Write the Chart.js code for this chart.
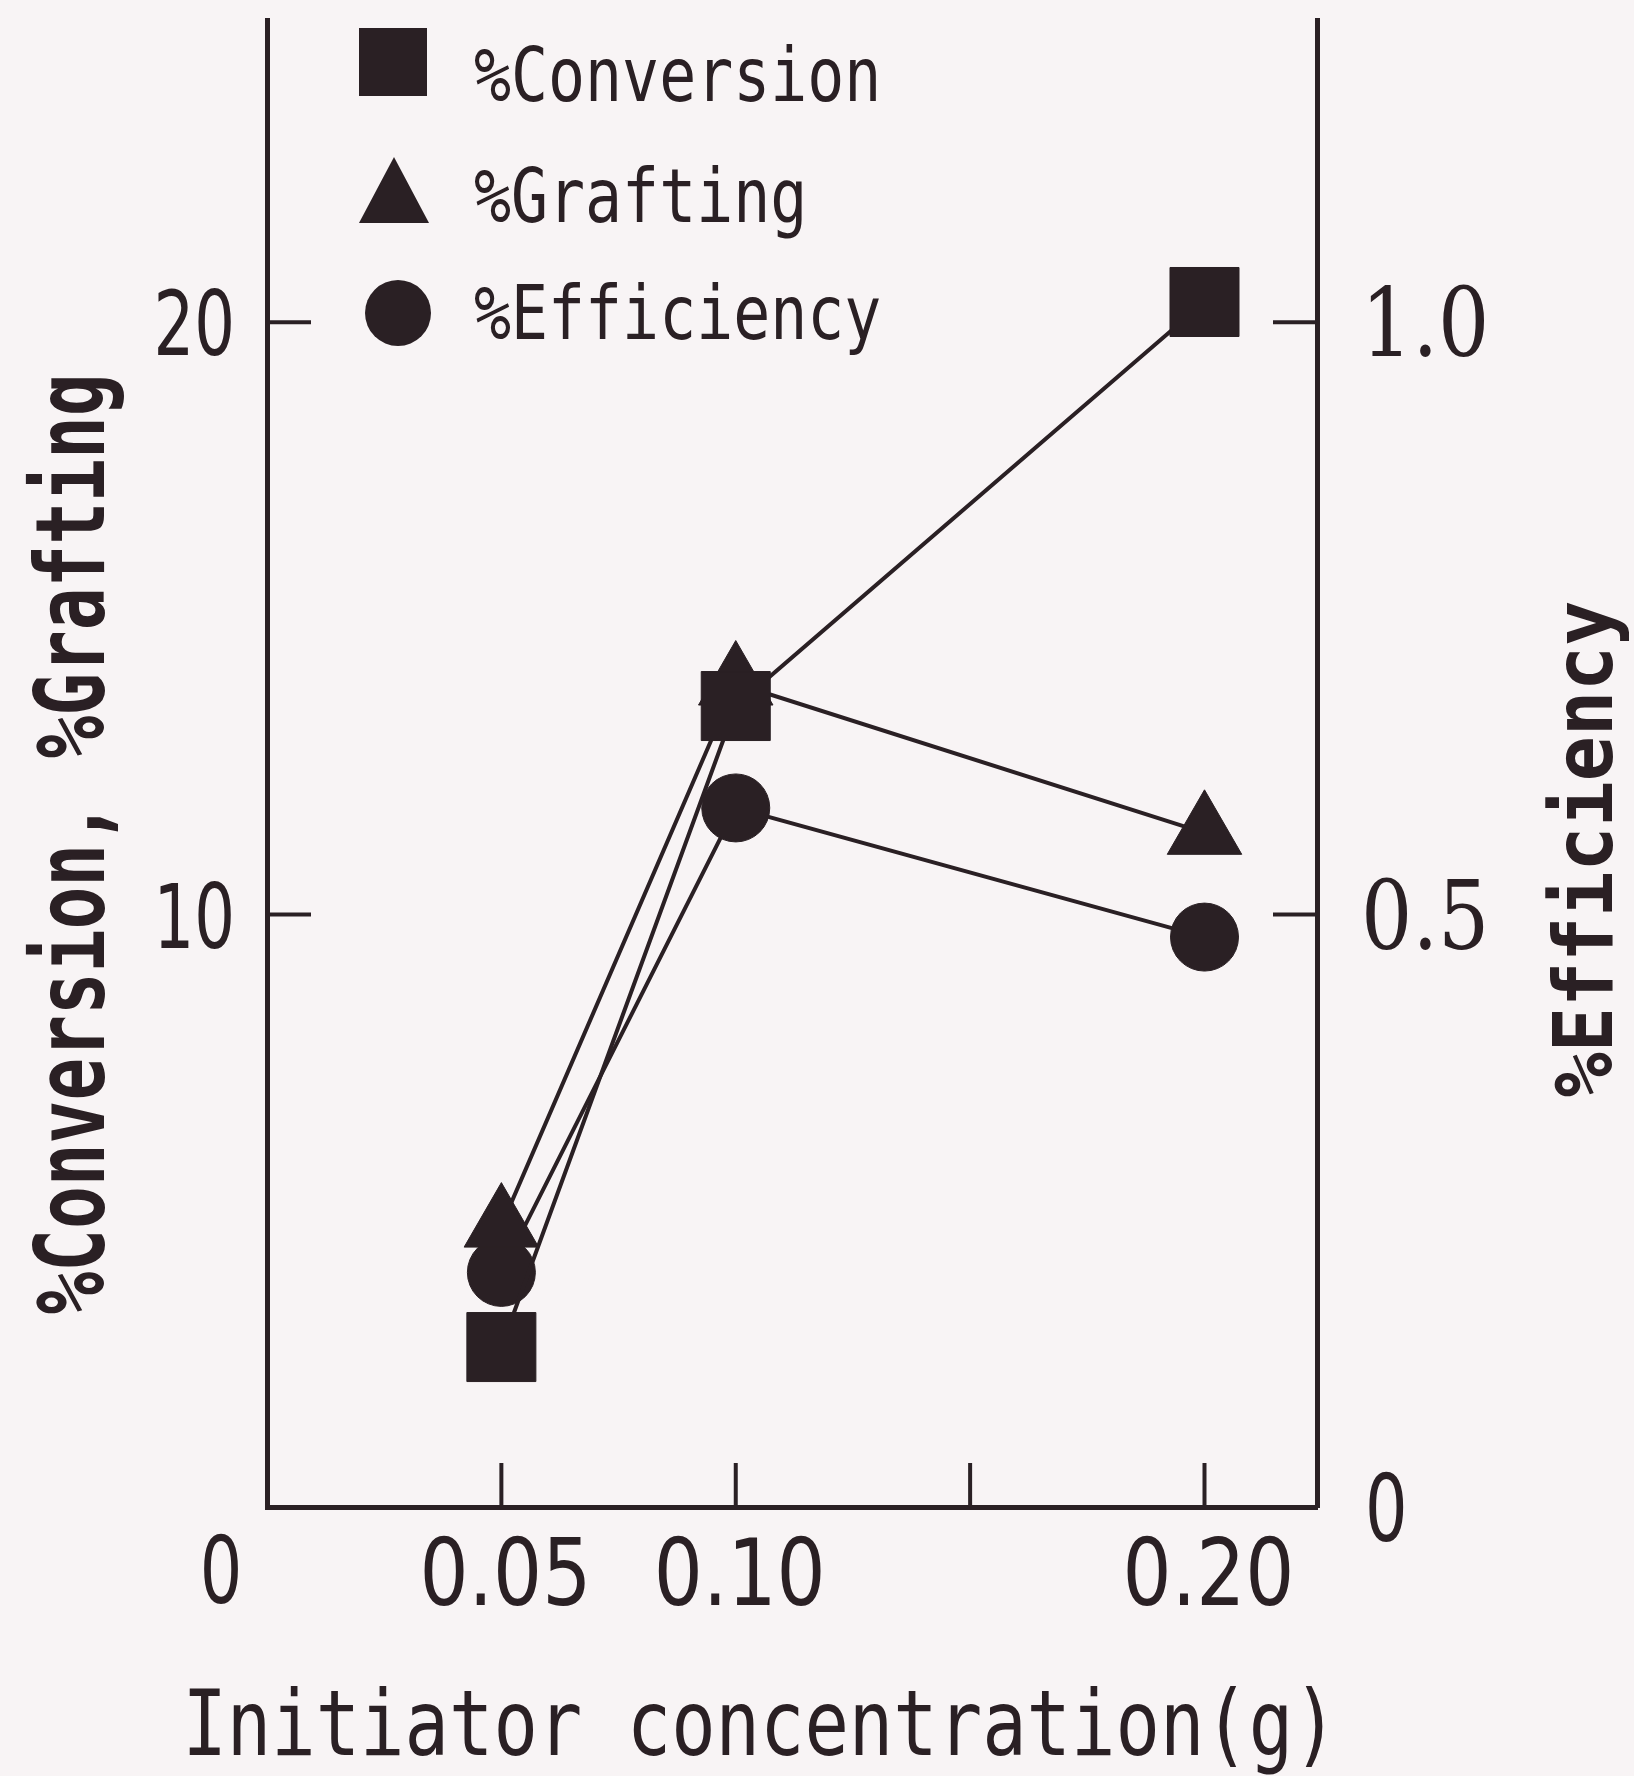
<!DOCTYPE html>
<html>
<head>
<meta charset="utf-8">
<title>Initiator concentration</title>
<script src="https://cdn.jsdelivr.net/npm/chart.js@4.4.1/dist/chart.umd.min.js"></script>
<style>
    html, body { margin: 0; padding: 0; background: #f8f4f5; }
    canvas { display: block; }
</style>
</head>
<body>
<canvas id="myChart" width="1634" height="1776"></canvas>
<script>
// values
const concentrations = [0.05, 0.10, 0.20];
const conversion = [2.7, 13.52, 20.34];
const grafting = [4.75, 13.9, 11.38];
const efficiency = [0.198, 0.59, 0.481];

const xTicks = [0.05, 0.10, 0.15, 0.20];
const xTickLabels = ["0.05", "0.10", "", "0.20"];
const leftTicks = [10, 20];
const leftTickLabels = ["10", "20"];
const rightTicks = [0.5, 1.0];
const rightTickLabels = ["0.5", "1.0"];

const seriesNames = ["%Conversion", "%Grafting", "%Efficiency"];
const xTitle = "Initiator concentration(g)";
const leftTitle = "%Conversion, %Grafting";
const rightTitle = "%Efficiency";

const INK = "#2a2024";
const MONO = "'DejaVu Sans Mono', monospace";
const DIGITS = "'DejaVu Sans', sans-serif";

function toPoints(ys) {
    return concentrations.map((x, i) => ({ x: x, y: ys[i] }));
}

// text squeezed horizontally, like the old typewriter lettering
function squeeze(ctx, text, x, y, font, sx, align, rot) {
    ctx.save();
    ctx.translate(x, y);
    if (rot) ctx.rotate(rot);
    ctx.scale(sx, 1);
    ctx.font = font;
    ctx.fillStyle = INK;
    ctx.textAlign = align;
    ctx.textBaseline = "alphabetic";
    ctx.fillText(text, 0, 0);
    ctx.restore();
}

function seg(ctx, x1, y1, x2, y2) {
    ctx.beginPath();
    ctx.moveTo(x1, y1);
    ctx.lineTo(x2, y2);
    ctx.stroke();
}

const paperAxes = {
    id: "paperAxes",
    afterDraw(chart) {
        const ctx = chart.ctx;
        const a = chart.chartArea;
        const x = chart.scales.x;
        const y = chart.scales.y;
        const y2 = chart.scales.y2;

        ctx.save();
        ctx.strokeStyle = INK;
        ctx.lineWidth = 4;

        // inward tick marks
        xTicks.forEach(v => {
            const px = x.getPixelForValue(v);
            seg(ctx, px, a.bottom, px, a.bottom - 44);
        });
        leftTicks.forEach(v => {
            const py = y.getPixelForValue(v);
            seg(ctx, a.left, py, a.left + 44, py);
        });
        rightTicks.forEach(v => {
            const py = y2.getPixelForValue(v);
            seg(ctx, a.right, py, a.right - 44, py);
        });

        // tick labels
        xTicks.forEach((v, i) => {
            if (!xTickLabels[i]) return;
            squeeze(ctx, xTickLabels[i], x.getPixelForValue(v) + 4, a.bottom + 98,
                "93px " + DIGITS, 0.83, "center");
        });
        squeeze(ctx, "0", x.getPixelForValue(0) - 46, a.bottom + 96,
            "93px " + DIGITS, 0.72, "center");

        leftTicks.forEach((v, i) => {
            squeeze(ctx, leftTickLabels[i], a.left - 32, y.getPixelForValue(v) + 33,
                "89px " + DIGITS, 0.72, "right");
        });
        rightTicks.forEach((v, i) => {
            squeeze(ctx, rightTickLabels[i], a.right + 44, y2.getPixelForValue(v) + 34,
                "95px 'DejaVu Serif', serif", 0.85, "left");
        });
        squeeze(ctx, "0", a.right + 48, y2.getPixelForValue(0) + 34,
            "93px " + DIGITS, 0.72, "left");

        // axis titles
        squeeze(ctx, xTitle, 760, 1755, "90px " + MONO, 0.82, "center");
        squeeze(ctx, leftTitle, 104, 844, "bold 96px " + MONO, 0.74, "center", -Math.PI / 2);
        squeeze(ctx, rightTitle, 1612, 849, "bold 82px " + MONO, 0.915, "center", -Math.PI / 2);

        // legend, top left inside the frame
        ctx.fillStyle = INK;
        ctx.fillRect(359, 28, 68, 68);
        ctx.beginPath();
        ctx.moveTo(394, 157);
        ctx.lineTo(429, 223);
        ctx.lineTo(359, 223);
        ctx.closePath();
        ctx.fill();
        ctx.beginPath();
        ctx.arc(398, 313, 33, 0, Math.PI * 2);
        ctx.fill();

        squeeze(ctx, seriesNames[0], 474, 101, "75px " + MONO, 0.82, "left");
        squeeze(ctx, seriesNames[1], 474, 222, "75px " + MONO, 0.82, "left");
        squeeze(ctx, seriesNames[2], 474, 339, "75px " + MONO, 0.82, "left");

        ctx.restore();
    }
};

const ctx = document.getElementById("myChart");

const myChart = new Chart(ctx, {
    type: "line",
    data: {
        datasets: [
            {
                label: seriesNames[0],
                data: toPoints(conversion),
                yAxisID: "y",
                pointStyle: "rect",
                pointRadius: 48.8
            },
            {
                label: seriesNames[1],
                data: toPoints(grafting),
                yAxisID: "y",
                pointStyle: "triangle",
                pointRadius: 43
            },
            {
                label: seriesNames[2],
                data: toPoints(efficiency),
                yAxisID: "y2",
                pointStyle: "circle",
                pointRadius: 34
            }
        ]
    },
    options: {
        responsive: false,
        animation: false,
        devicePixelRatio: 1,
        layout: {
            autoPadding: false,
            padding: { left: 267, right: 317, top: 20, bottom: 269 }
        },
        elements: {
            line: { borderColor: INK, borderWidth: 4, tension: 0, fill: false },
            point: {
                backgroundColor: INK,
                borderColor: INK,
                borderWidth: 1,
                hoverRadius: 0
            }
        },
        scales: {
            x: {
                type: "linear",
                min: 0,
                max: 0.224,
                grid: { display: false, drawTicks: false },
                ticks: { display: false },
                border: { display: true, color: INK, width: 5 }
            },
            y: {
                position: "left",
                min: 0,
                max: 25.1,
                grid: { display: false, drawTicks: false },
                ticks: { display: false },
                border: { display: true, color: INK, width: 5 }
            },
            y2: {
                position: "right",
                min: 0,
                max: 1.255,
                grid: { display: false, drawTicks: false },
                ticks: { display: false },
                border: { display: true, color: INK, width: 5 }
            }
        },
        plugins: {
            legend: { display: false },
            tooltip: { enabled: false }
        }
    },
    plugins: [paperAxes]
});
</script>
</body>
</html>
